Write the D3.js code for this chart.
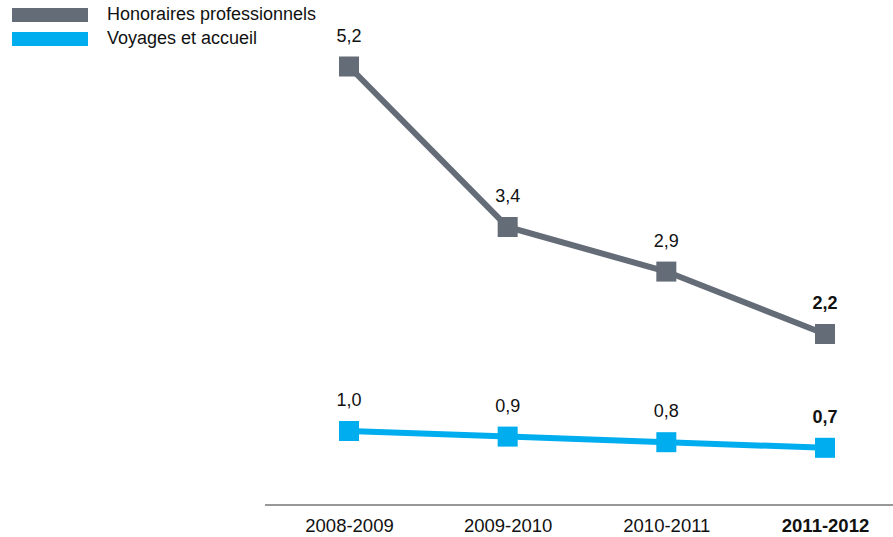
<!DOCTYPE html>
<html><head><meta charset="utf-8">
<script src="https://cdn.jsdelivr.net/npm/d3@7"></script>
<style>body{margin:0;background:#fff}svg{display:block;font-family:"Liberation Sans",Arial,sans-serif}</style>
</head><body><svg id="c" width="893" height="537"></svg>
<script>
const categories = ["2008-2009","2009-2010","2010-2011","2011-2012"];
const honoraires = [5.2,3.4,2.9,2.2];
const voyages = [1.0,0.9,0.8,0.7];
const seriesNames = ["Honoraires professionnels","Voyages et accueil"];
const colors = ["#646c77","#00adee"];

const svg = d3.select("#c");
const x = d3.scalePoint().domain(categories).range([349,825]);
const y = d3.scaleLinear().domain([0,1,2.2,5.2]).range([487,431,334,66.5]);
const fmt = v => d3.format(".1f")(v).replace(".", ",");

svg.append("line").attr("x1",265).attr("x2",893).attr("y1",505).attr("y2",505)
  .attr("stroke","#333").attr("stroke-width",1.2);
const xAxis = d3.axisBottom(x).tickSize(0).tickPadding(0);
const ax = svg.append("g").attr("transform","translate(0,532)").call(xAxis);
ax.select(".domain").remove();
ax.selectAll("text").attr("dy",null).attr("y",0).attr("font-size",18.5).attr("fill","#111")
  .attr("font-family","'Liberation Sans',Arial,sans-serif")
  .attr("font-weight",(d,i)=>i===3?"bold":"normal");

const series = [honoraires, voyages];
series.forEach((vals,si)=>{
  const data = vals.map((v,i)=>({c:categories[i],v,i}));
  svg.append("path").datum(data)
    .attr("d",d3.line().x(d=>x(d.c)).y(d=>y(d.v)))
    .attr("fill","none").attr("stroke",colors[si]).attr("stroke-width",6);
  svg.selectAll(null).data(data).enter().append("rect")
    .attr("x",d=>x(d.c)-10).attr("y",d=>y(d.v)-10).attr("width",20).attr("height",20)
    .attr("fill",colors[si]);
  svg.selectAll(null).data(data).enter().append("text")
    .attr("x",d=>x(d.c)).attr("y",d=>y(d.v)-25)
    .attr("text-anchor","middle").attr("font-size",18).attr("fill","#111")
    .attr("font-weight",d=>d.i===3?"bold":"normal")
    .text(d=>fmt(d.v));
});

const lg = svg.append("g");
seriesNames.forEach((n,i)=>{
  lg.append("rect").attr("x",12).attr("y",8+i*24).attr("width",76).attr("height",14).attr("fill",colors[i]);
  lg.append("text").attr("x",107).attr("y",20+i*24).attr("font-size",18).attr("fill","#111").text(n);
});
</script></body></html>
